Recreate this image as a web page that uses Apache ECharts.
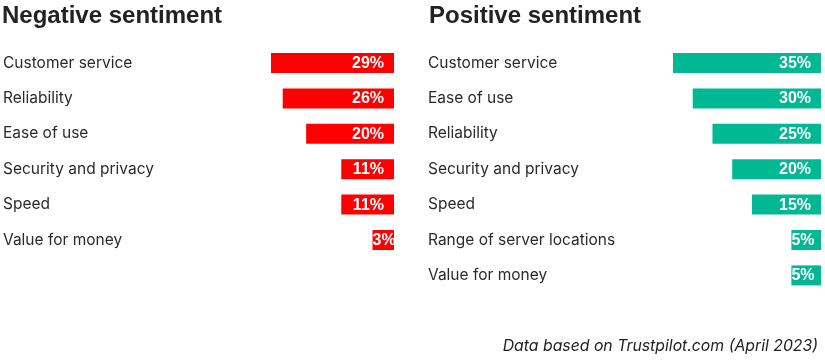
<!DOCTYPE html>
<html>
<head>
<meta charset="utf-8">
<script src="https://cdn.jsdelivr.net/npm/echarts@6/dist/echarts.min.js"></script>
<style>
html,body{margin:0;padding:0;background:#fff;}
#chart{width:825px;height:361px;}
</style>
</head>
<body>
<div id="chart"></div>
<script>
// ---- data ----
const negTitle = 'Negative sentiment';
const posTitle = 'Positive sentiment';
const negCategories = ['Customer service', 'Reliability', 'Ease of use', 'Security and privacy', 'Speed', 'Value for money'];
const negValues = [29, 26, 20, 11, 11, 3];
const posCategories = ['Customer service', 'Ease of use', 'Reliability', 'Security and privacy', 'Speed', 'Range of server locations', 'Value for money'];
const posValues = [35, 30, 25, 20, 15, 5, 5];
const footnote = 'Data based on Trustpilot.com (April 2023)';

// ---- styles ----
const NEG_COLOR = '#ff0000';
const POS_COLOR = '#00b894';
const LABEL_FONT = 'bold 16px "Liberation Sans", Arial, sans-serif';
const AXIS_MIN = -2.5;
const ROW = 35.4;
const TOP = 45.3;

const measureCtx = document.createElement('canvas').getContext('2d');
measureCtx.font = LABEL_FONT;
function textW(t) { return measureCtx.measureText(t).width; }

function makeRender(color) {
  return function (params, api) {
    const v = api.value(0);
    const cat = api.value(1);
    const end = api.coord([v, cat]);
    const base = api.coord([AXIS_MIN, cat]);
    const h = 20;
    const left = Math.min(end[0], base[0]);
    const right = Math.max(end[0], base[0]);
    const label = v + '%';
    const w = textW(label);
    const tx = Math.max(left, right - 10 - w);
    return {
      type: 'group',
      children: [
        { type: 'rect', shape: { x: left, y: end[1] - h / 2, width: right - left, height: h }, style: { fill: color } },
        { type: 'text', style: { text: label, x: tx, y: end[1] + 0.5, textAlign: 'left', textVerticalAlign: 'middle', font: LABEL_FONT, fill: '#fff' } }
      ]
    };
  };
}

const chart = echarts.init(document.getElementById('chart'), null, { renderer: 'canvas' });

const yAxisCommon = (cats, margin) => ({
  type: 'category', inverse: true, data: cats,
  axisLine: { show: false }, axisTick: { show: false }, splitLine: { show: false },
  axisLabel: { align: 'left', margin: margin, fontSize: 15.5, color: '#2a2a2a', fontFamily: 'Inter, "Liberation Sans", Arial, sans-serif' }
});

chart.setOption({
  animation: false,
  backgroundColor: '#fff',
  title: [
    { text: negTitle, left: 2, top: 4, padding: 0, textStyle: { fontSize: 24, fontWeight: 'bold', color: '#222', fontFamily: '"Liberation Sans", Arial, sans-serif' } },
    { text: posTitle, left: 429, top: 4, padding: 0, textStyle: { fontSize: 24, fontWeight: 'bold', color: '#222', fontFamily: '"Liberation Sans", Arial, sans-serif' } }
  ],
  grid: [
    { left: 270, right: 825 - 394, top: TOP, height: ROW * negCategories.length, containLabel: false },
    { left: 673, right: 825 - 821, top: TOP, height: ROW * posCategories.length, containLabel: false }
  ],
  xAxis: [
    { gridIndex: 0, type: 'value', inverse: true, min: AXIS_MIN, max: Math.max(...negValues), show: false },
    { gridIndex: 1, type: 'value', inverse: true, min: AXIS_MIN, max: Math.max(...posValues), show: false }
  ],
  yAxis: [
    Object.assign({ gridIndex: 0 }, yAxisCommon(negCategories, 268)),
    Object.assign({ gridIndex: 1 }, yAxisCommon(posCategories, 673 - 428))
  ],
  series: [
    { type: 'custom', xAxisIndex: 0, yAxisIndex: 0, renderItem: makeRender(NEG_COLOR), encode: { x: 0, y: 1 },
      data: negValues.map((v, i) => [v, i]) },
    { type: 'custom', xAxisIndex: 1, yAxisIndex: 1, renderItem: makeRender(POS_COLOR), encode: { x: 0, y: 1 },
      data: posValues.map((v, i) => [v, i]) }
  ],
  graphic: [
    { type: 'text', right: 7, top: 338, style: { text: footnote, font: 'italic 15.8px Inter, "Liberation Sans", sans-serif', fill: '#222' } }
  ]
});
</script>
</body>
</html>
